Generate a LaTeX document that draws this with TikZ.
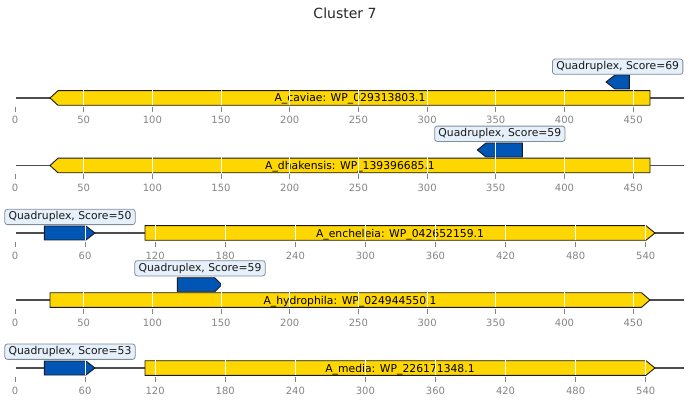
\documentclass[tikz,border=0pt]{standalone}
\usepackage{fontspec}
\setmainfont{DejaVu Sans}
\usetikzlibrary{positioning}
\definecolor{geneFill}{HTML}{FFD700}
\definecolor{geneDraw}{HTML}{1A1A1A}
\definecolor{quadFill}{HTML}{0055B5}
\definecolor{boxFill}{HTML}{E6F0FA}
\definecolor{boxDraw}{HTML}{7F8C99}
\definecolor{axisLine}{HTML}{4D4D4D}
\definecolor{tickGray}{HTML}{858585}
\tikzset{
  gene/.style ={fill=geneFill, draw=geneDraw, line width=0.9pt},
  quad/.style ={fill=quadFill, draw=geneDraw, line width=0.9pt},
  base/.style ={draw=axisLine, line width=1.3pt},
  grid/.style ={draw=white, line width=0.9pt},
  tickmark/.style={draw=tickGray, line width=0.8pt},
  ticklab/.style ={anchor=base, text=tickGray, inner sep=0pt, font=\fontsize{10}{12}\selectfont},
  genelab/.style ={anchor=base, inner sep=0pt, font=\fontsize{10.8}{13}\selectfont},
  qbox/.style ={draw=boxDraw, fill=boxFill, rounded corners=2.5pt, line width=0.8pt,
                inner xsep=3.8pt, inner ysep=0pt, minimum height=15.3pt,
                text height=7.9pt, text depth=2.3pt, text=black!90,
                font=\fontsize{10.8}{13}\selectfont},
}
% arrows: style, x1, x2, y, half height, head length
\newcommand{\featL}[6]{\draw[#1] (#2,#4) -- (#2+#6,#4-#5) -- (#3,#4-#5) -- (#3,#4+#5) -- (#2+#6,#4+#5) -- cycle;}
\newcommand{\featR}[6]{\draw[#1] (#2,#4-#5) -- (#3-#6,#4-#5) -- (#3,#4) -- (#3-#6,#4+#5) -- (#2,#4+#5) -- cycle;}

\begin{document}
\begin{tikzpicture}[x=1pt, y=-1pt]
  \useasboundingbox (0,0) rectangle (690,403);
  \node[anchor=base, inner sep=0pt, text=black!85, font=\fontsize{14}{16}\selectfont] (title) at (345,18.3) {Cluster 7};

  % backbone lines
  \foreach \yy in {98,165.5,233,300,368}
    \draw[base] (15,\yy) -- (684,\yy);

  % genes
  \featL{gene}{50}{650}{98}{7.3}{8}
  \featL{gene}{50}{650}{165.5}{7.3}{8}
  \featR{gene}{145}{655}{233}{7.3}{9}
  \featR{gene}{50}{650}{300}{7.3}{8.5}
  \featR{gene}{145}{655}{368}{7.3}{9}

  % quadruplexes
  \featL{quad}{606}{629.3}{82}{7}{9}
  \featL{quad}{477.3}{522.3}{150}{7}{8.7}
  \featR{quad}{44.3}{95}{233}{7}{9}
  \featR{quad}{177.3}{221.7}{284.7}{7}{7}
  \featR{quad}{44.3}{95}{368}{7}{9}

  \node[genelab] (g1) at (350,102) {A\_caviae: WP\_029313803.1};
  \node[genelab] (g2) at (350,169.5) {A\_dhakensis: WP\_139396685.1};
  \node[genelab] (g3) at (400,237) {A\_encheleia: WP\_042652159.1};
  \node[genelab] (g4) at (350,304) {A\_hydrophila: WP\_024944550.1};
  \node[genelab] (g5) at (400,372) {A\_media: WP\_226171348.1};

  % axes, 0..450
  \foreach \r/\yy in {1/98,2/165.5,4/300}
    \foreach \k in {0,...,9} {
      \pgfmathsetmacro\xx{15+68.68*\k}
      \pgfmathtruncatemacro\v{50*\k}
      \draw[grid] (\xx,\yy-24) -- (\xx,\yy+7.4);
      \draw[tickmark] (\xx,\yy+8.7) -- (\xx,\yy+13.7);
      \node[ticklab] (t\r-\k) at (\xx,\yy+26) {\v};
    }
  % axes, 0..540
  \foreach \r/\yy in {3/233,5/368}
    \foreach \k in {0,...,9} {
      \pgfmathsetmacro\xx{15+70.08*\k}
      \pgfmathtruncatemacro\v{60*\k}
      \draw[grid] (\xx,\yy-24) -- (\xx,\yy+7.4);
      \draw[tickmark] (\xx,\yy+8.7) -- (\xx,\yy+13.7);
      \node[ticklab] (t\r-\k) at (\xx,\yy+26) {\v};
    }

  \node[qbox] (q1) at (617.7,66.7)  {Quadruplex, Score=69};
  \node[qbox] (q2) at (499.8,133.8) {Quadruplex, Score=59};
  \node[qbox] (q3) at (70,217)      {Quadruplex, Score=50};
  \node[qbox] (q4) at (200,268.3)   {Quadruplex, Score=59};
  \node[qbox] (q5) at (70,351.7)    {Quadruplex, Score=53};
\end{tikzpicture}
\end{document}
